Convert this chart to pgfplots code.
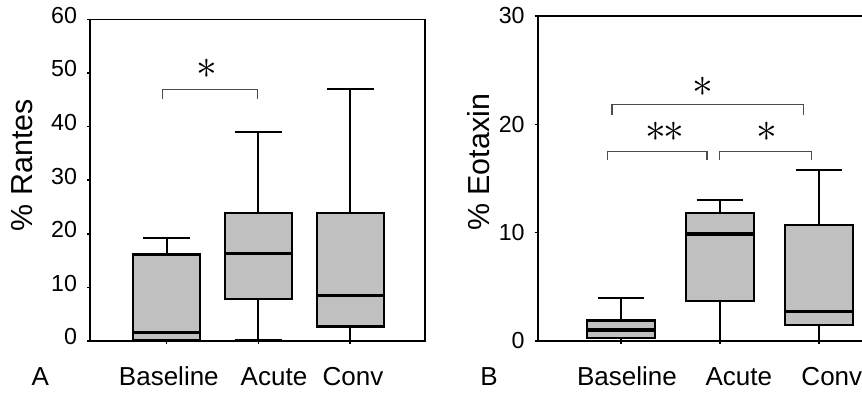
\documentclass[border=0pt]{standalone}
\usepackage{pgfplots}
\pgfplotsset{compat=1.18}
\usepgfplotslibrary{statistics}
\usepackage{fontspec}
\setmainfont{Liberation Sans}
\definecolor{boxgray}{RGB}{192,192,192}
\pgfplotsset{
  panel/.style={
    scale only axis,
    anchor=south west,
    clip=false,
    axis line style={line width=0.8pt},
    tick align=outside,
    major tick length=1.5pt,
    tick style={line width=0.8pt,black},
    xtick pos=bottom, ytick pos=left,
    xtick={1,2,3}, xticklabels={},
    yticklabel style={font=\fontsize{11.6pt}{13pt}\selectfont, xshift=-1.5pt},
    /pgf/number format/assume math mode=true,
    boxplot/draw direction=y,
    boxplot/every box/.style={draw=black,line width=1.1pt,fill=boxgray},
    boxplot/every whisker/.style={black,line width=1pt},
    boxplot/every median/.style={black,line width=1.8pt},
  },
  brk/.style={black!70,line width=0.65pt},
}
\newcommand{\lab}{\fontsize{13pt}{14pt}\selectfont}
\newcommand{\ylab}{\fontsize{15.2pt}{17pt}\selectfont}
\newcommand{\sig}{\fontsize{20pt}{20pt}\selectfont$\ast$}
\begin{document}
\begin{tikzpicture}
\path[use as bounding box] (0,0) rectangle (431pt,196pt);
% Panel A
\begin{axis}[panel, at={(45pt,25.5pt)}, width=167.5pt, height=160.85pt,
  xmin=0.166, xmax=3.815, ymin=0, ymax=60, ytick={0,10,...,60},
  yticklabel style={yshift=2pt}]
\addplot[boxplot prepared={lower whisker=0, lower quartile=0.2, median=1.6,
  upper quartile=16.15, upper whisker=19.3, draw position=1,
  box extend=0.73, whisker extend=0.51}] coordinates {};
\addplot[boxplot prepared={lower whisker=0.1, lower quartile=7.8, median=16.3,
  upper quartile=23.9, upper whisker=38.9, draw position=2,
  box extend=0.73, whisker extend=0.51}] coordinates {};
\addplot[boxplot prepared={lower whisker=0, lower quartile=2.7, median=8.5,
  upper quartile=23.9, upper whisker=47, draw position=3,
  box extend=0.73, whisker extend=0.51}] coordinates {};
\addplot[brk] coordinates {(0.956,45.1) (0.956,46.9) (1.992,46.9) (1.992,45.1)};
\node at (axis cs:1.44,50.8) {\sig};
\draw[line width=1.15pt] (rel axis cs:0,1) -- (rel axis cs:0,0) -- (rel axis cs:1,0);
\node[anchor=base] at (axis cs:1.025,0) [yshift=-22pt] {\lab Baseline};
\node[anchor=base] at (axis cs:2.17,0) [yshift=-22pt] {\lab Acute};
\node[anchor=base] at (axis cs:3.03,0) [yshift=-22pt] {\lab Conv};
\node[anchor=base] at (axis cs:-0.376,0) [yshift=-22pt] {\lab A};
\node[rotate=90] at (axis cs:-0.572,32.8) {\ylab \% Rantes};
\end{axis}
% Panel B
\begin{axis}[panel, at={(268.85pt,25.5pt)}, width=182.7pt, height=162.5pt,
  xmin=0.159, xmax=3.85, ymin=0, ymax=30, ytick={0,10,20,30}]
\addplot[boxplot prepared={lower whisker=0, lower quartile=0.3, median=1.0,
  upper quartile=1.9, upper whisker=4.0, draw position=1,
  box extend=0.68, whisker extend=0.47}] coordinates {};
\addplot[boxplot prepared={lower whisker=0, lower quartile=3.72, median=9.85,
  upper quartile=11.85, upper whisker=13.0, draw position=2,
  box extend=0.68, whisker extend=0.47}] coordinates {};
\addplot[boxplot prepared={lower whisker=0, lower quartile=1.48, median=2.74,
  upper quartile=10.7, upper whisker=15.8, draw position=3,
  box extend=0.68, whisker extend=0.47}] coordinates {};
\addplot[brk] coordinates {(0.909,20.86) (0.909,21.8) (2.841,21.8) (2.841,20.86)};
\addplot[brk] coordinates {(0.866,16.7) (0.866,17.47) (1.869,17.47) (1.869,16.7)};
\addplot[brk] coordinates {(1.997,16.7) (1.997,17.47) (2.926,17.47) (2.926,16.7)};
\node at (axis cs:1.825,23.5) {\sig};
\node at (axis cs:1.447,19.3) {\sig\hspace{-1.5pt}\sig};
\node at (axis cs:2.472,19.3) {\sig};
\draw[line width=1.15pt] (rel axis cs:0,1) -- (rel axis cs:0,0) -- (rel axis cs:1,0);
\node[anchor=base] at (axis cs:1.06,0) [yshift=-22pt] {\lab Baseline};
\node[anchor=base] at (axis cs:2.19,0) [yshift=-22pt] {\lab Acute};
\node[anchor=base] at (axis cs:3.13,0) [yshift=-22pt] {\lab Conv};
\node[anchor=base] at (axis cs:-0.333,0) [yshift=-22pt] {\lab B};
\node[rotate=90] at (axis cs:-0.439,16.48) {\ylab \% Eotaxin};
\end{axis}
\end{tikzpicture}
\end{document}
